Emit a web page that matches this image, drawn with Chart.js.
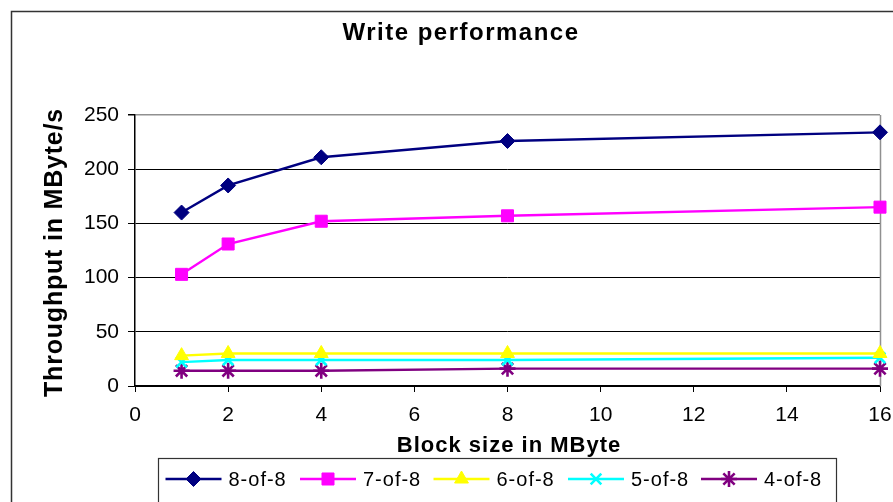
<!DOCTYPE html>
<html>
<head>
<meta charset="utf-8">
<title>Write performance</title>
<script src="https://cdn.jsdelivr.net/npm/chart.js@4.4.1/dist/chart.umd.min.js"></script>
<style>
  html, body { margin: 0; padding: 0; background: #ffffff; }
  #wrap { width: 893px; height: 502px; }
</style>
</head>
<body>
<div id="wrap"><canvas id="chart" width="893" height="502"></canvas></div>
<script>
// Block sizes (MByte) on the x axis
const blockSizes = [1, 2, 4, 8, 16];

// Write throughput in MByte/s for each k-of-n configuration
const thr8of8 = [160, 185, 211, 226, 234];
const thr7of8 = [103, 131, 152, 157, 165];
const thr6of8 = [28, 30, 30, 30, 30];
const thr5of8 = [22, 24, 24, 24, 26];
const thr4of8 = [14, 14, 14, 16, 16];

const seriesNames = ['8-of-8', '7-of-8', '6-of-8', '5-of-8', '4-of-8'];

const chartTitle = 'Write performance';
const xTitle = 'Block size in MByte';
const yTitle = 'Throughput in MByte/s';

const FONT = "'Liberation Sans', Arial, Helvetica, sans-serif";

function points(values) {
  return blockSizes.map((x, i) => ({ x: x, y: values[i] }));
}

const styles = [
  { color: '#000080', pointStyle: 'rectRot', radius: 7.5 },
  { color: '#FF00FF', pointStyle: 'rect', radius: 8.5 },
  { color: '#FFFF00', pointStyle: 'triangle', radius: 8 },
  { color: '#00FFFF', pointStyle: 'crossRot', radius: 7.5 },
  { color: '#800080', pointStyle: 'star', radius: 8 }
];

const seriesValues = [thr8of8, thr7of8, thr6of8, thr5of8, thr4of8];

const datasets = seriesValues.map((vals, i) => ({
  label: seriesNames[i],
  data: points(vals),
  borderColor: styles[i].color,
  backgroundColor: styles[i].color,
  pointBackgroundColor: styles[i].color,
  pointBorderColor: styles[i].color,
  pointStyle: styles[i].pointStyle,
  pointRadius: styles[i].radius,
  pointHoverRadius: styles[i].radius,
  pointBorderWidth: (styles[i].pointStyle === 'crossRot' || styles[i].pointStyle === 'star') ? 2.6 : 1,
  borderWidth: 2.4,
  tension: 0,
  fill: false,
  clip: false
}));

// Frame, titles and legend drawn around the plot
const decorations = {
  id: 'decorations',
  beforeDraw(chart) {
    const ctx = chart.ctx;
    ctx.save();
    ctx.fillStyle = '#ffffff';
    ctx.fillRect(0, 0, chart.width, chart.height);
    // outer chart frame
    ctx.strokeStyle = '#333333';
    ctx.lineWidth = 1.5;
    ctx.beginPath();
    ctx.moveTo(11.5, chart.height + 2);
    ctx.lineTo(11.5, 11.5);
    ctx.lineTo(chart.width + 2, 11.5);
    ctx.stroke();
    ctx.restore();
  },
  beforeDatasetsDraw(chart) {
    const ctx = chart.ctx;
    const a = chart.chartArea;
    ctx.save();
    ctx.strokeStyle = '#909090';
    ctx.lineWidth = 1.5;
    ctx.beginPath();
    ctx.moveTo(Math.round(a.right) + 0.5, a.top);
    ctx.lineTo(Math.round(a.right) + 0.5, a.bottom);
    ctx.stroke();
    ctx.restore();
  },
  afterDraw(chart) {
    const ctx = chart.ctx;
    const a = chart.chartArea;
    ctx.save();
    ctx.fillStyle = '#000000';

    // chart title
    ctx.font = 'bold 24px ' + FONT;
    ctx.letterSpacing = '1.5px';
    ctx.textAlign = 'center';
    ctx.textBaseline = 'alphabetic';
    ctx.fillText(chartTitle, 461, 39.5);

    // x axis title
    ctx.font = 'bold 22px ' + FONT;
    ctx.letterSpacing = '1px';
    ctx.fillText(xTitle, 509, 451.5);

    // y axis title
    ctx.save();
    ctx.translate(62, (a.top + a.bottom) / 2 + 2);
    ctx.rotate(-Math.PI / 2);
    ctx.font = 'bold 25px ' + FONT;
    ctx.letterSpacing = '0.8px';
    ctx.fillText(yTitle, 0, 0);
    ctx.restore();

    // legend
    ctx.strokeStyle = '#333333';
    ctx.lineWidth = 1.2;
    ctx.strokeRect(158.5, 458.5, 678, 50);
    const starts = [165.5, 300, 433.5, 568, 701];
    const ly = 479;
    ctx.font = '20px ' + FONT;
    ctx.letterSpacing = '1px';
    ctx.textAlign = 'left';
    ctx.textBaseline = 'middle';
    chart.data.datasets.forEach((ds, i) => {
      const x0 = starts[i];
      ctx.strokeStyle = ds.borderColor;
      ctx.lineWidth = ds.borderWidth;
      ctx.beginPath();
      ctx.moveTo(x0, ly);
      ctx.lineTo(x0 + 56, ly);
      ctx.stroke();
      ctx.fillStyle = ds.pointBackgroundColor;
      ctx.strokeStyle = ds.pointBorderColor;
      ctx.lineWidth = ds.pointBorderWidth;
      Chart.helpers.drawPoint(ctx, {
        pointStyle: ds.pointStyle,
        radius: ds.pointRadius,
        rotation: 0,
        borderWidth: ds.pointBorderWidth
      }, x0 + 28, ly);
      ctx.fillStyle = '#000000';
      ctx.fillText(ds.label, x0 + 63, ly + 1);
    });
    ctx.restore();
  }
};

new Chart(document.getElementById('chart'), {
  type: 'line',
  data: { datasets: datasets },
  options: {
    responsive: false,
    animation: false,
    events: [],
    layout: { padding: { top: 115, right: 13, bottom: 0, left: 0 } },
    plugins: {
      legend: { display: false },
      title: { display: false },
      tooltip: { enabled: false }
    },
    scales: {
      x: {
        type: 'linear',
        min: 0,
        max: 16,
        afterFit(scale) {
          scale.height = 116;
          scale.paddingLeft = 0;
          scale.paddingRight = 0;
        },
        ticks: {
          stepSize: 2,
          color: '#000000',
          padding: 11,
          font: { family: FONT, size: 21 }
        },
        grid: {
          drawOnChartArea: false,
          drawTicks: true,
          tickLength: 6,
          tickColor: '#000000',
          lineWidth: 1
        },
        border: { color: '#000000', width: 1.5 }
      },
      y: {
        type: 'linear',
        min: 0,
        max: 250,
        afterFit(scale) {
          scale.width = 135;
          scale.paddingTop = 0;
          scale.paddingBottom = 0;
        },
        ticks: {
          stepSize: 50,
          color: '#000000',
          padding: 9,
          font: { family: FONT, size: 21 }
        },
        grid: {
          color: (c) => (c.tick && c.tick.value === 250) ? '#909090' : '#000000',
          lineWidth: (c) => (c.tick && c.tick.value === 250) ? 1.5 : 1,
          drawTicks: true,
          tickLength: 7,
          tickColor: '#000000'
        },
        border: { color: '#000000', width: 1.5 }
      }
    }
  },
  plugins: [decorations]
});
</script>
</body>
</html>
